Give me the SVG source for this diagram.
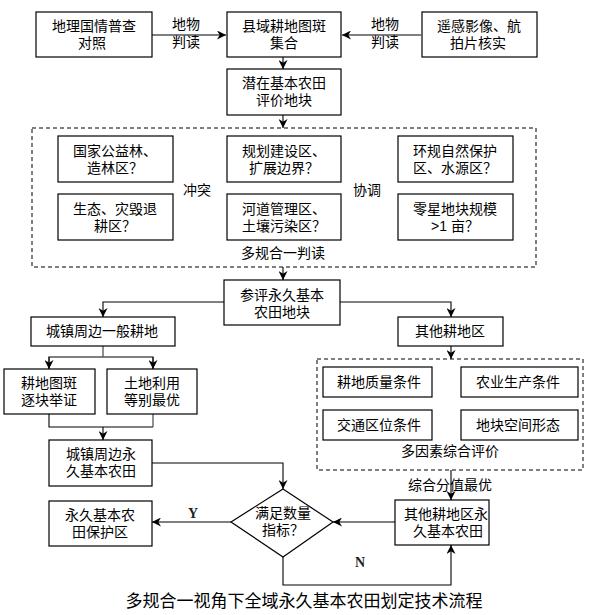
<svg xmlns="http://www.w3.org/2000/svg" width="589" height="615" viewBox="0 0 589 615">
<style>
.b{fill:#fff;stroke:#000;stroke-width:1.2}
.d{fill:none;stroke:#000;stroke-width:1;stroke-dasharray:4 3}
.t{font-family:"Liberation Sans","Noto Sans CJK SC",sans-serif;font-size:14px;fill:#000;text-anchor:middle}
.c{fill:none;stroke:#000;stroke-width:1.1}
.g{fill:none;stroke:#555;stroke-width:1.3}
.s{font-family:"Liberation Serif",serif;font-size:14px;font-weight:bold;fill:#222;text-anchor:middle}
</style>
<defs>
<marker id="a" viewBox="0 0 10 10" refX="10" refY="5" markerWidth="9" markerHeight="9" markerUnits="userSpaceOnUse" orient="auto">
<path d="M0,0 L10,5 L0,10 L3,5 Z" fill="#000"/>
</marker>
</defs>
<rect width="589" height="615" fill="#fff"/>
<g id="connectors">
<line class="c" x1="152" y1="35" x2="226" y2="35" marker-end="url(#a)"/>
<line class="c" x1="421" y1="35" x2="342" y2="35" marker-end="url(#a)"/>
<line class="c" x1="283" y1="57" x2="283" y2="69" marker-end="url(#a)"/>
<line class="c" x1="283" y1="115" x2="283" y2="128" marker-end="url(#a)"/>
<line class="c" x1="283" y1="267" x2="283" y2="280" marker-end="url(#a)"/>
<polyline class="c" points="224,302 103,302 103,317" marker-end="url(#a)"/>
<polyline class="c" points="340,302 451,302 451,317" marker-end="url(#a)"/>
<line class="g" x1="103" y1="346" x2="103" y2="357"/>
<polyline class="g" points="49,369 49,357 153,357 153,369" />
<line class="c" x1="49" y1="357" x2="49" y2="369" marker-end="url(#a)"/>
<line class="c" x1="153" y1="357" x2="153" y2="369" marker-end="url(#a)"/>
<polyline class="c" points="49,414 49,427 153,427"/>
<line class="g" x1="153" y1="414" x2="153" y2="427"/>
<line class="c" x1="103" y1="427" x2="103" y2="440" marker-end="url(#a)"/>
<line class="c" x1="451" y1="346" x2="451" y2="359" marker-end="url(#a)"/>
<line class="c" x1="451" y1="470" x2="451" y2="500" marker-end="url(#a)"/>
<polyline class="c" points="152,463 283,463 283,489" marker-end="url(#a)"/>
<line class="c" x1="395" y1="522" x2="333" y2="522" marker-end="url(#a)"/>
<line class="c" x1="231" y1="522" x2="152" y2="522" marker-end="url(#a)"/>
<polyline class="c" points="283,557 283,585 451,585 451,545" marker-end="url(#a)"/>
</g>
<g id="n_geo"><rect class="b" x="36" y="12" width="116" height="45"/><text class="t" x="94" y="31">地理国情普查</text><text class="t" x="92" y="48">对照</text></g>
<g id="lbl_l"><text class="t" x="186" y="29">地物</text><text class="t" x="186" y="47">判读</text></g>
<g id="n_set"><rect class="b" x="227" y="12" width="114" height="45"/><text class="t" x="284" y="31">县域耕地图斑</text><text class="t" x="284" y="48">集合</text></g>
<g id="lbl_r"><text class="t" x="385" y="29">地物</text><text class="t" x="385" y="47">判读</text></g>
<g id="n_rs"><rect class="b" x="422" y="12" width="115" height="45"/><text class="t" x="479" y="31">遥感影像、航</text><text class="t" x="478" y="48">拍片核实</text></g>
<g id="n_pot"><rect class="b" x="227" y="69" width="114" height="46"/><text class="t" x="284" y="88">潜在基本农田</text><text class="t" x="284" y="105">评价地块</text></g>
<g id="n_multi">
<rect class="d" x="32" y="128" width="504" height="139"/>
<rect class="b" x="58" y="136" width="115" height="46"/><text class="t" x="115" y="156">国家公益林、</text><text class="t" x="115" y="173">造林区？</text>
<rect class="b" x="58" y="194" width="115" height="46"/><text class="t" x="115" y="214">生态、灾毁退</text><text class="t" x="115" y="231">耕区？</text>
<rect class="b" x="227" y="136" width="114" height="46"/><text class="t" x="284" y="156">规划建设区、</text><text class="t" x="284" y="173">扩展边界？</text>
<rect class="b" x="227" y="194" width="114" height="46"/><text class="t" x="284" y="214">河道管理区、</text><text class="t" x="284" y="231">土壤污染区？</text>
<rect class="b" x="398" y="136" width="115" height="46"/><text class="t" x="455" y="156">环规自然保护</text><text class="t" x="455" y="173">区、水源区？</text>
<rect class="b" x="398" y="194" width="115" height="46"/><text class="t" x="455" y="214">零星地块规模</text><text class="t" x="455" y="231">&gt;1 亩？</text>
<text class="t" x="197" y="195">冲突</text><text class="t" x="367" y="195">协调</text>
<text class="t" x="283" y="258">多规合一判读</text>
</g>
<g id="n_eval"><rect class="b" x="224" y="280" width="116" height="45"/><text class="t" x="282" y="300">参评永久基本</text><text class="t" x="282" y="317">农田地块</text></g>
<g id="n_town"><rect class="b" x="31" y="317" width="144" height="29"/><text class="t" x="102" y="336">城镇周边一般耕地</text></g>
<g id="n_other"><rect class="b" x="398" y="317" width="105" height="29"/><text class="t" x="450" y="336">其他耕地区</text></g>
<g id="n_proof"><rect class="b" x="4" y="369" width="91" height="45"/><text class="t" x="49" y="388">耕地图斑</text><text class="t" x="49" y="405">逐块举证</text></g>
<g id="n_grade"><rect class="b" x="107" y="369" width="90" height="45"/><text class="t" x="152" y="388">土地利用</text><text class="t" x="152" y="405">等别最优</text></g>
<g id="n_townperm"><rect class="b" x="49" y="440" width="103" height="46"/><text class="t" x="101" y="459">城镇周边永</text><text class="t" x="101" y="476">久基本农田</text></g>
<g id="n_factor">
<rect class="d" x="317" y="359" width="266" height="111"/>
<rect class="b" x="323" y="367" width="109" height="30"/><text class="t" x="379" y="387">耕地质量条件</text>
<rect class="b" x="461" y="367" width="117" height="30"/><text class="t" x="518" y="387">农业生产条件</text>
<rect class="b" x="323" y="410" width="109" height="30"/><text class="t" x="379" y="430">交通区位条件</text>
<rect class="b" x="461" y="410" width="117" height="30"/><text class="t" x="518" y="430">地块空间形态</text>
<text class="t" x="450" y="456">多因素综合评价</text>
</g>
<g id="lbl_best"><text class="t" x="450" y="490">综合分值最优</text></g>
<g id="n_otherperm"><rect class="b" x="395" y="500" width="94" height="45"/><text class="t" x="446" y="519">其他耕地区永</text><text class="t" x="448" y="536">久基本农田</text></g>
<g id="n_check"><polygon class="b" points="283,489 333,522 283,557 231,522"/><text class="t" x="283" y="518">满足数量</text><text class="t" x="283" y="535">指标？</text></g>
<g id="n_zone"><rect class="b" x="49" y="501" width="103" height="45"/><text class="t" x="100" y="520">永久基本农</text><text class="t" x="100" y="537">田保护区</text></g>
<g id="lbl_yn"><text class="s" x="193" y="518">Y</text><text class="s" x="360" y="567">N</text></g>
<g id="caption"><text class="t" x="304" y="607" style="font-size:17px">多规合一视角下全域永久基本农田划定技术流程</text></g>
</svg>
